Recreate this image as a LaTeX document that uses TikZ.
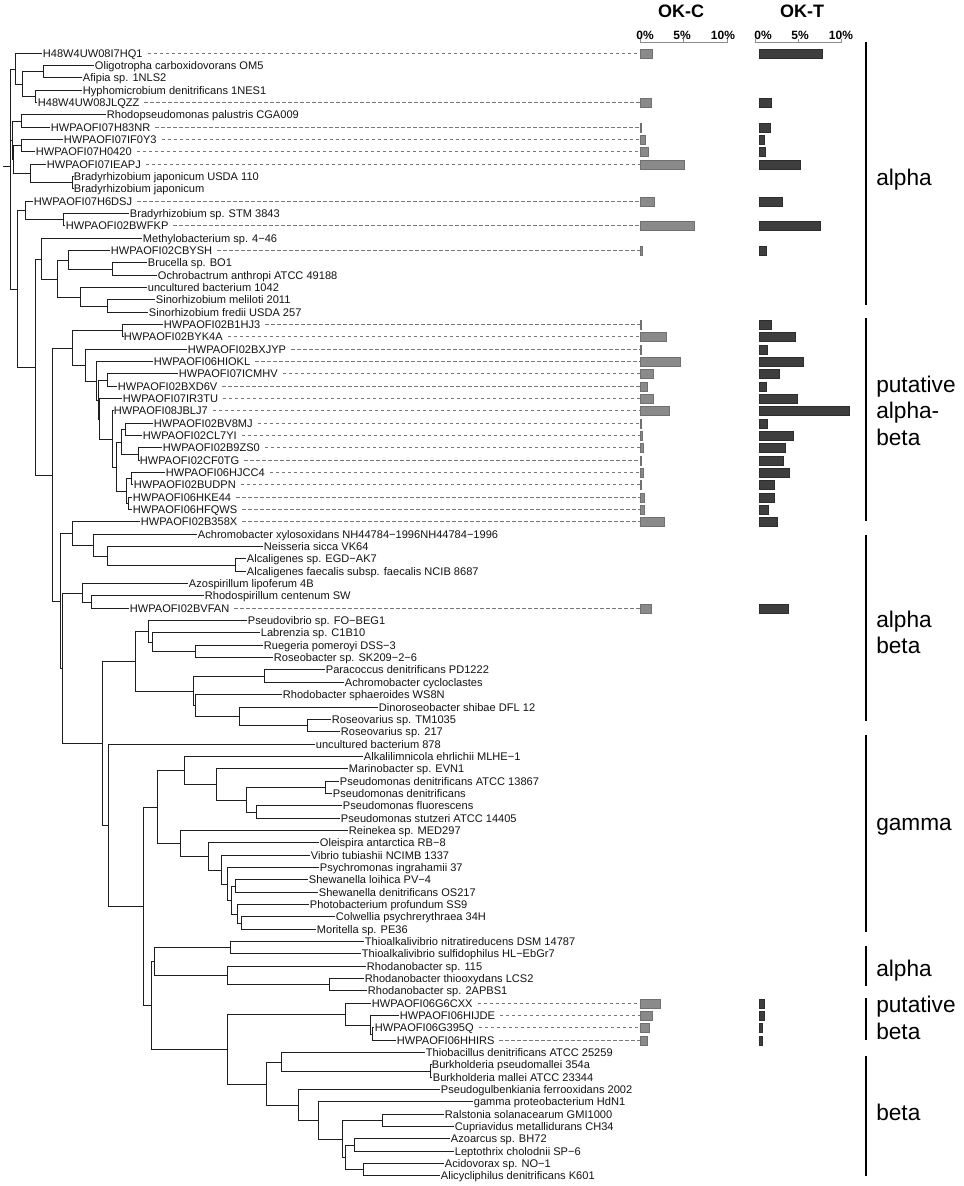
\documentclass[tikz,border=0pt]{standalone}
\usepackage{fontspec}
\setmainfont{Liberation Sans}
\definecolor{treec}{RGB}{30,30,30}
\definecolor{okcfill}{RGB}{138,138,138}
\definecolor{okcdraw}{RGB}{112,112,112}
\definecolor{oktfill}{RGB}{62,62,62}
\definecolor{oktdraw}{RGB}{45,45,45}
\definecolor{dashc}{RGB}{120,120,120}
\definecolor{axc}{RGB}{140,140,140}
\newcommand\Lf[4]{%
  \pgfmathsetmacro\tmpy{floor(53+(#2-1)*12.34)+0.5}%
  \expandafter\xdef\csname ty@#1\endcsname{\tmpy}%
  \coordinate (#1) at (#3,\tmpy);%
  \node[leaflab] (#1l) at (#1) {#4};%
}
\newcommand\Hw[6]{%
  \Lf{#1}{#2}{#3}{#4}%
  \draw[dashln] ([xshift=3pt]#1l.east) -- ([xshift=3pt]#1l.east -| dashend);%
  \path[okcbar] ({640.5},{\tmpy-4.5}) rectangle ++(#5,9);%
  \path[oktbar] ({759},{\tmpy-4.5}) rectangle ++(#6,9);%
}
\newcommand\Cl[4]{%
  \pgfmathsetmacro\tmpy{floor((\csname ty@#3\endcsname+\csname ty@#4\endcsname)/2)+0.5}%
  \pgfmathsetmacro\tmpx{floor(#2)+0.5}%
  \expandafter\xdef\csname ty@#1\endcsname{\tmpy}%
  \coordinate (#1) at (\tmpx,\tmpy);%
  \draw[tline] (#1) |- (#3);%
  \draw[tline] (#1) |- (#4);%
}
\begin{document}
\begin{tikzpicture}[x=0.75pt,y=-0.75pt,
  tline/.style={draw=treec,line width=1.1pt},
  leaflab/.style={anchor=west,inner xsep=0.5pt,inner ysep=0pt,text height=5.95pt,text depth=0pt,font=\fontsize{8.3}{9.5}\selectfont,text=black!92},
  dashln/.style={draw=dashc,line width=0.55pt,dash pattern=on 2.6pt off 1.9pt},
  okcbar/.style={fill=okcfill,draw=okcdraw,line width=0.3pt},
  oktbar/.style={fill=oktfill,draw=oktdraw,line width=0.3pt},
  grp/.style={anchor=west,align=left,font=\fontsize{17}{19.9}\selectfont,inner sep=0pt},
  hdr/.style={font=\bfseries\fontsize{13.5}{16}\selectfont,inner sep=0pt},
  axlab/.style={font=\bfseries\fontsize{9}{10}\selectfont,inner sep=0pt},
  axl/.style={draw=axc,line width=0.6pt},
  sidebar/.style={draw=black,line width=1.5pt}]
\fill[white] (0,0) rectangle (964,1186);
\useasboundingbox (0,0) rectangle (964,1186);
\coordinate (dashend) at (636,0);
% leaves
\Hw{L1}{1}{42}{H48W4UW08I7HQ1}{11.7}{63}
\Lf{L2}{2}{94}{Oligotropha carboxidovorans OM5}
\Lf{L3}{3}{82}{Afipia sp. 1NLS2}
\Lf{L4}{4}{82}{Hyphomicrobium denitrificans 1NES1}
\Hw{L5}{5}{37}{H48W4UW08JLQZZ}{11}{12}
\Lf{L6}{6}{106}{Rhodopseudomonas palustris CGA009}
\Hw{L7}{7}{50}{HWPAOFI07H83NR}{0.8}{11.3}
\Hw{L8}{8}{63}{HWPAOFI07IF0Y3}{4.3}{5.3}
\Hw{L9}{9}{35}{HWPAOFI07H0420}{8}{6.3}
\Hw{L10}{10}{46}{HWPAOFI07IEAPJ}{43.7}{40.7}
\Lf{L11}{11}{73}{Bradyrhizobium japonicum USDA 110}
\Lf{L12}{12}{73}{Bradyrhizobium japonicum}
\Hw{L13}{13}{33}{HWPAOFI07H6DSJ}{14}{23}
\Lf{L14}{14}{129}{Bradyrhizobium sp. STM 3843}
\Hw{L15}{15}{65}{HWPAOFI02BWFKP}{54}{61}
\Lf{L16}{16}{142}{Methylobacterium sp. 4−46}
\Hw{L17}{17}{110}{HWPAOFI02CBYSH}{1.7}{7.3}
\Lf{L18}{18}{147}{Brucella sp. BO1}
\Lf{L19}{19}{157}{Ochrobactrum anthropi ATCC 49188}
\Lf{L20}{20}{147}{uncultured bacterium 1042}
\Lf{L21}{21}{155}{Sinorhizobium meliloti 2011}
\Lf{L22}{22}{148}{Sinorhizobium fredii USDA 257}
\Hw{L23}{23}{163}{HWPAOFI02B1HJ3}{0.8}{12}
\Hw{L24}{24}{123}{HWPAOFI02BYK4A}{26}{36}
\Hw{L25}{25}{187}{HWPAOFI02BXJYP}{0.8}{7.7}
\Hw{L26}{26}{153}{HWPAOFI06HIOKL}{40}{43.7}
\Hw{L27}{27}{178}{HWPAOFI07ICMHV}{12.3}{20}
\Hw{L28}{28}{117}{HWPAOFI02BXD6V}{7}{6.7}
\Hw{L29}{29}{122}{HWPAOFI07IR3TU}{13}{37.7}
\Hw{L30}{30}{113}{HWPAOFI08JBLJ7}{29}{90.3}
\Hw{L31}{31}{153}{HWPAOFI02BV8MJ}{1}{7.7}
\Hw{L32}{32}{142}{HWPAOFI02CL7YI}{2}{33.7}
\Hw{L33}{33}{162}{HWPAOFI02B9ZS0}{2.3}{25.7}
\Hw{L34}{34}{139}{HWPAOFI02CF0TG}{1}{24.3}
\Hw{L35}{35}{165}{HWPAOFI06HJCC4}{3}{30.3}
\Hw{L36}{36}{133}{HWPAOFI02BUDPN}{0.8}{14.7}
\Hw{L37}{37}{132}{HWPAOFI06HKE44}{4}{14.7}
\Hw{L38}{38}{132}{HWPAOFI06HFQWS}{3.3}{8.7}
\Hw{L39}{39}{140}{HWPAOFI02B358X}{23.7}{18.3}
\Lf{L40}{40}{197}{Achromobacter xylosoxidans NH44784−1996NH44784−1996}
\Lf{L41}{41}{263}{Neisseria sicca VK64}
\Lf{L42}{42}{246}{Alcaligenes sp. EGD−AK7}
\Lf{L43}{43}{246}{Alcaligenes faecalis subsp. faecalis NCIB 8687}
\Lf{L44}{44}{188}{Azospirillum lipoferum 4B}
\Lf{L45}{45}{204}{Rhodospirillum centenum SW}
\Hw{L46}{46}{129}{HWPAOFI02BVFAN}{10.7}{28.7}
\Lf{L47}{47}{247}{Pseudovibrio sp. FO−BEG1}
\Lf{L48}{48}{260}{Labrenzia sp. C1B10}
\Lf{L49}{49}{263}{Ruegeria pomeroyi DSS−3}
\Lf{L50}{50}{273}{Roseobacter sp. SK209−2−6}
\Lf{L51}{51}{325}{Paracoccus denitrificans PD1222}
\Lf{L52}{52}{344}{Achromobacter cycloclastes}
\Lf{L53}{53}{282}{Rhodobacter sphaeroides WS8N}
\Lf{L54}{54}{378}{Dinoroseobacter shibae DFL 12}
\Lf{L55}{55}{331}{Roseovarius sp. TM1035}
\Lf{L56}{56}{340}{Roseovarius sp. 217}
\Lf{L57}{57}{315}{uncultured bacterium 878}
\Lf{L58}{58}{363}{Alkalilimnicola ehrlichii MLHE−1}
\Lf{L59}{59}{348}{Marinobacter sp. EVN1}
\Lf{L60}{60}{339}{Pseudomonas denitrificans ATCC 13867}
\Lf{L61}{61}{332}{Pseudomonas denitrificans}
\Lf{L62}{62}{342}{Pseudomonas fluorescens}
\Lf{L63}{63}{340}{Pseudomonas stutzeri ATCC 14405}
\Lf{L64}{64}{348}{Reinekea sp. MED297}
\Lf{L65}{65}{319}{Oleispira antarctica RB−8}
\Lf{L66}{66}{310}{Vibrio tubiashii NCIMB 1337}
\Lf{L67}{67}{319}{Psychromonas ingrahamii 37}
\Lf{L68}{68}{308}{Shewanella loihica PV−4}
\Lf{L69}{69}{318}{Shewanella denitrificans OS217}
\Lf{L70}{70}{309}{Photobacterium profundum SS9}
\Lf{L71}{71}{335}{Colwellia psychrerythraea 34H}
\Lf{L72}{72}{316}{Moritella sp. PE36}
\Lf{L73}{73}{364}{Thioalkalivibrio nitratireducens DSM 14787}
\Lf{L74}{74}{361}{Thioalkalivibrio sulfidophilus HL−EbGr7}
\Lf{L75}{75}{366}{Rhodanobacter sp. 115}
\Lf{L76}{76}{364}{Rhodanobacter thiooxydans LCS2}
\Lf{L77}{77}{367}{Rhodanobacter sp. 2APBS1}
\Hw{L78}{78}{371}{HWPAOFI06G6CXX}{19.7}{4.7}
\Hw{L79}{79}{399}{HWPAOFI06HIJDE}{12}{5.3}
\Hw{L80}{80}{374}{HWPAOFI06G395Q}{8.7}{3.3}
\Hw{L81}{81}{396}{HWPAOFI06HHIRS}{6.7}{3.3}
\Lf{L82}{82}{425}{Thiobacillus denitrificans ATCC 25259}
\Lf{L83}{83}{431}{Burkholderia pseudomallei 354a}
\Lf{L84}{84}{432}{Burkholderia mallei ATCC 23344}
\Lf{L85}{85}{440}{Pseudogulbenkiania ferrooxidans 2002}
\Lf{L86}{86}{473}{gamma proteobacterium HdN1}
\Lf{L87}{87}{444}{Ralstonia solanacearum GMI1000}
\Lf{L88}{88}{454}{Cupriavidus metallidurans CH34}
\Lf{L89}{89}{450}{Azoarcus sp. BH72}
\Lf{L90}{90}{454}{Leptothrix cholodnii SP−6}
\Lf{L91}{91}{444}{Acidovorax sp. NO−1}
\Lf{L92}{92}{440}{Alicycliphilus denitrificans K601}
% alpha clades
\Cl{cOA}{43}{L2}{L3}
\Cl{cHJ}{35}{L4}{L5}
\Cl{cA}{22}{cOA}{cHJ}
\Cl{cB}{15}{L1}{cA}
\Cl{cC}{21}{L6}{L7}
\Cl{cD}{21}{L8}{L9}
\Cl{cBr}{72}{L11}{L12}
\Cl{cE}{30}{L10}{cBr}
\Cl{cGb}{13.5}{cD}{cE}
\Cl{cGa}{12}{cC}{cGb}
\Cl{cSB}{63}{L14}{L15}
\Cl{cF}{25}{L13}{cSB}
\Cl{cBO}{112}{L18}{L19}
\Cl{cMc}{68}{L17}{cBO}
\Cl{cSi}{107}{L21}{L22}
\Cl{cMd}{80}{L20}{cSi}
\Cl{cMb}{57}{cMc}{cMd}
\Cl{cM}{41}{L16}{cMb}
% putative alpha-beta
\Cl{cPa}{122}{L23}{L24}
\Cl{cQ}{107}{L27}{L28}
\Cl{cBV}{125}{L31}{L32}
\Cl{cBN}{138}{L33}{L34}
\Cl{cSa}{121}{cBV}{cBN}
\Cl{cHJC}{131}{L35}{L36}
\Cl{cHK}{128}{L37}{L38}
\Cl{cSb}{126}{cHJC}{cHK}
\Cl{cSc}{116}{cSa}{cSb}
\Cl{cSd}{112}{L30}{cSc}
\Cl{cPd}{99}{L29}{cSd}
\Cl{cPc}{98}{cQ}{cPd}
\Cl{cPb}{96}{L26}{cPc}
\Cl{cPe}{85}{L25}{cPb}
\Cl{cPAB}{72}{cPa}{cPe}
% alpha beta
\Cl{cAlc}{235}{L42}{L43}
\Cl{cNe}{107}{L41}{cAlc}
\Cl{cAx}{93}{L40}{cNe}
\Cl{cNs}{72}{L39}{cAx}
\Cl{cRB}{91}{L45}{L46}
\Cl{cAz}{82}{L44}{cRB}
\Cl{cRR}{195}{L49}{L50}
\Cl{cLab}{152}{L48}{cRR}
\Cl{cPv}{148}{L47}{cLab}
\Cl{cPar}{264}{L51}{L52}
\Cl{cRv}{307}{L55}{L56}
\Cl{cDi}{239}{L54}{cRv}
\Cl{cRs}{195}{L53}{cDi}
\Cl{cPg}{193}{cPar}{cRs}
\Cl{cRh}{135}{cPv}{cPg}
% gamma
\Cl{cPdn}{325}{L60}{L61}
\Cl{cPfs}{256}{L62}{L63}
\Cl{cPs}{246}{cPdn}{cPfs}
\Cl{cMa}{216}{L59}{cPs}
\Cl{cAl}{184}{L58}{cMa}
\Cl{cSh}{235}{L68}{L69}
\Cl{cCM}{241}{L71}{L72}
\Cl{cPh}{237}{L70}{cCM}
\Cl{cSP}{231}{cSh}{cPh}
\Cl{cPsy}{227}{L67}{cSP}
\Cl{cVi}{221}{L66}{cPsy}
\Cl{cOl}{208}{L65}{cVi}
\Cl{cRe}{180}{L64}{cOl}
\Cl{cGam}{157}{cAl}{cRe}
\Cl{cTh}{230}{L73}{L74}
\Cl{cRt}{329}{L76}{L77}
\Cl{cRd}{227}{L75}{cRt}
\Cl{cTR}{154}{cTh}{cRd}
% putative beta and beta
\Cl{cGq}{372}{L80}{L81}
\Cl{cPBb}{370}{L79}{cGq}
\Cl{cPB}{345}{L78}{cPBb}
\Cl{cBk}{430}{L83}{L84}
\Cl{cTB}{281}{L82}{cBk}
\Cl{cRC}{382}{L87}{L88}
\Cl{cAL}{354}{L89}{L90}
\Cl{cAA}{363}{L91}{L92}
\Cl{cAzA}{345}{cAL}{cAA}
\Cl{cRa}{342}{cRC}{cAzA}
\Cl{cgH}{318}{L86}{cRa}
\Cl{cPG}{298}{L85}{cgH}
\Cl{cBeta}{266}{cTB}{cPG}
\Cl{cV}{227}{cPB}{cBeta}
\Cl{cU}{151}{cTR}{cV}
\Cl{cN143}{143}{cGam}{cU}
\Cl{cN107}{108}{L57}{cN143}
\Cl{cN102}{102}{cRh}{cN107}
\Cl{cN62}{62}{cAz}{cN102}
\Cl{cN60}{60}{cNs}{cN62}
\Cl{cN52}{52}{cPAB}{cN60}
\Cl{cN35}{35}{cM}{cN52}
\Cl{cN17}{17}{cF}{cN35}
% root
\coordinate (R) at (10.5,166.5);
\coordinate (R0) at (3,166.5);
\draw[tline] (R0) -- (R);
\draw[tline] (R) |- (cB);
\draw[tline] (R) |- (cGa);
\draw[tline] (R) |- (cN17);
% headers and axes
\node[hdr] (hOKC) at (681,11) {OK-C};
\node[hdr] (hOKT) at (802,11) {OK-T};
\node[axlab] (aC0) at (645,35) {0\%};
\node[axlab] (aC5) at (682,35) {5\%};
\node[axlab] (aC10) at (723,35) {10\%};
\node[axlab] (aT0) at (763,35) {0\%};
\node[axlab] (aT5) at (800,35) {5\%};
\node[axlab] (aT10) at (841,35) {10\%};
\draw[axl] (640.5,39) -- (640.5,42) -- (727,42) -- (727,39) (683.5,42) -- (683.5,39);
\draw[axl] (755,39) -- (755,42) -- (841,42) -- (841,39) (798,42) -- (798,39);
% group bars and labels
\draw[sidebar] (865.5,42) -- (865.5,305);
\draw[sidebar] (865.5,318) -- (865.5,521);
\draw[sidebar] (865.5,535) -- (865.5,721);
\draw[sidebar] (865.5,735) -- (865.5,932);
\draw[sidebar] (865.5,946) -- (865.5,986);
\draw[sidebar] (865.5,998) -- (865.5,1040);
\draw[sidebar] (865.5,1056) -- (865.5,1176);
\node[grp] (gA) at (876,180) {alpha};
\node[grp] (gPAB) at (876,410.5) {putative\\alpha-\\beta};
\node[grp] (gAB) at (876,632.5) {alpha\\beta};
\node[grp] (gG) at (876,827) {gamma};
\node[grp] (gA2) at (876,971) {alpha};
\node[grp] (gPB) at (876,1018) {putative\\beta};
\node[grp] (gB) at (876,1112) {beta};
\end{tikzpicture}
\end{document}
